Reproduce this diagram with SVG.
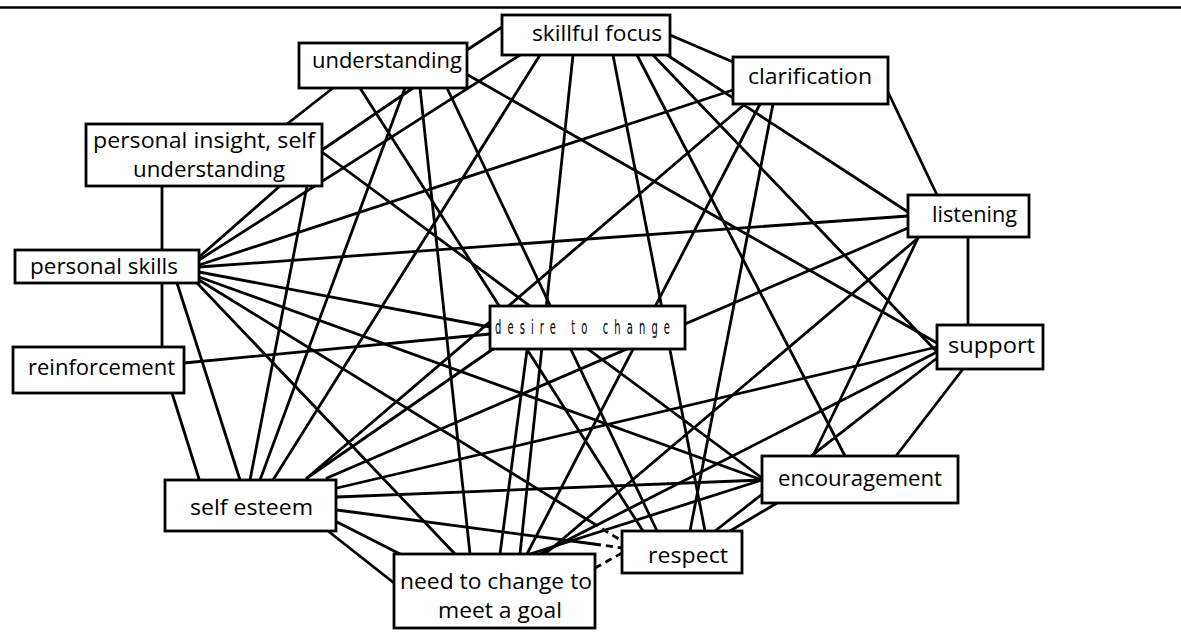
<svg xmlns="http://www.w3.org/2000/svg" width="1181" height="637" viewBox="0 0 1181 637">
<style>
.bx{fill:#fff;stroke:#000;stroke-width:2.8}
.t{font-family:"Open Sans","Liberation Sans",sans-serif;font-size:22px;font-weight:500;fill:#000}
.t2{font-size:21px}
#edges line{stroke:#000;stroke-width:2.8;stroke-linecap:round}
#edges line.d{stroke-dasharray:7 5;stroke-linecap:butt}
.dc{font-family:"DejaVu Sans Condensed","Liberation Sans Narrow",sans-serif;font-size:20px;fill:#000}
</style>
<rect width="1181" height="637" fill="#fff"/>
<line x1="0" y1="7.5" x2="1181" y2="7.5" stroke="#000" stroke-width="2.5"/>
<g id="edges">
<line x1="467" y1="50" x2="502" y2="27"/>
<line x1="670" y1="35" x2="733" y2="62"/>
<line x1="888" y1="92" x2="937" y2="195"/>
<line x1="968" y1="237" x2="968" y2="325"/>
<line x1="963" y1="369" x2="896" y2="456"/>
<line x1="777" y1="503" x2="730" y2="531"/>
<line class="d" x1="622" y1="553" x2="595" y2="568"/>
<line x1="328" y1="531" x2="394" y2="583"/>
<line x1="172" y1="393" x2="200" y2="482"/>
<line x1="162" y1="186" x2="162" y2="347"/>
<line x1="287" y1="124" x2="333" y2="88"/>
<line x1="520" y1="55" x2="199" y2="260"/>
<line x1="540" y1="55" x2="273" y2="480"/>
<line x1="573" y1="55" x2="520" y2="554"/>
<line x1="613" y1="55" x2="705" y2="531"/>
<line x1="637" y1="55" x2="845" y2="456"/>
<line x1="653" y1="55" x2="937" y2="352"/>
<line x1="667" y1="55" x2="908" y2="212"/>
<line x1="322" y1="150" x2="413" y2="88"/>
<line x1="405" y1="88" x2="260" y2="480"/>
<line x1="420" y1="88" x2="470" y2="554"/>
<line x1="447" y1="88" x2="657" y2="531"/>
<line x1="360" y1="88" x2="643" y2="531"/>
<line x1="468" y1="75" x2="937" y2="343"/>
<line x1="733" y1="90" x2="199" y2="265"/>
<line x1="745" y1="104" x2="307" y2="478"/>
<line x1="760" y1="104" x2="527" y2="554"/>
<line x1="773" y1="104" x2="690" y2="531"/>
<line x1="199" y1="267" x2="908" y2="216"/>
<line x1="199" y1="272" x2="490" y2="327"/>
<line x1="199" y1="277" x2="762" y2="480"/>
<line x1="199" y1="280" x2="592" y2="522.5"/>
<line class="d" x1="592" y1="522.5" x2="622" y2="541"/>
<line x1="197" y1="283" x2="455" y2="554"/>
<line x1="177" y1="283" x2="240" y2="480"/>
<line x1="198" y1="258" x2="280" y2="186"/>
<line x1="307" y1="186" x2="250" y2="480"/>
<line x1="322" y1="152" x2="762" y2="478"/>
<line x1="337" y1="488" x2="937" y2="347"/>
<line x1="337" y1="497" x2="762" y2="480"/>
<line x1="337" y1="510" x2="594" y2="544"/>
<line class="d" x1="594" y1="544" x2="622" y2="548"/>
<line x1="337" y1="522" x2="400" y2="554"/>
<line x1="307" y1="478" x2="493" y2="349"/>
<line x1="327" y1="478" x2="908" y2="228"/>
<line x1="184" y1="363" x2="490" y2="334"/>
<line x1="918" y1="238" x2="545" y2="554"/>
<line x1="918" y1="238" x2="813" y2="456"/>
<line x1="937" y1="352" x2="540" y2="554"/>
<line x1="937" y1="358" x2="715" y2="531"/>
<line x1="527" y1="350" x2="500" y2="554"/>
<line x1="762" y1="480" x2="530" y2="554"/>
</g>
<g id="n-skillful-focus"><rect class="bx" x="502" y="15" width="168" height="40"/><text class="t" x="532" y="41" textLength="130" lengthAdjust="spacingAndGlyphs">skillful focus</text></g>
<g id="n-understanding"><rect class="bx" x="299" y="43" width="168" height="45"/><text class="t" x="312" y="68" textLength="150" lengthAdjust="spacingAndGlyphs">understanding</text></g>
<g id="n-clarification"><rect class="bx" x="733" y="57" width="155" height="47"/><text class="t" x="748" y="84" textLength="124" lengthAdjust="spacingAndGlyphs">clarification</text></g>
<g id="n-personal-insight"><rect class="bx" x="86" y="124" width="236" height="62"/><text class="t t2" x="93" y="148" textLength="222" lengthAdjust="spacingAndGlyphs">personal insight, self</text><text class="t t2" x="133" y="177" textLength="152" lengthAdjust="spacingAndGlyphs">understanding</text></g>
<g id="n-listening"><rect class="bx" x="908" y="195" width="121" height="42"/><text class="t" x="932" y="222" textLength="85" lengthAdjust="spacingAndGlyphs">listening</text></g>
<g id="n-personal-skills"><rect class="bx" x="15" y="250" width="184" height="33"/><text class="t" x="30" y="274" textLength="148" lengthAdjust="spacingAndGlyphs">personal skills</text></g>
<g id="n-desire"><rect class="bx" x="490" y="306" width="195" height="43"/><text class="dc" transform="translate(495,334) scale(0.55,1)" textLength="318" lengthAdjust="spacing">desire to change</text></g>
<g id="n-support"><rect class="bx" x="937" y="325" width="106" height="44"/><text class="t" x="948" y="353" textLength="87" lengthAdjust="spacingAndGlyphs">support</text></g>
<g id="n-reinforcement"><rect class="bx" x="13" y="347" width="171" height="46"/><text class="t" x="28" y="375" textLength="147" lengthAdjust="spacingAndGlyphs">reinforcement</text></g>
<g id="n-self-esteem"><rect class="bx" x="165" y="480" width="171" height="51"/><text class="t" x="190" y="515" textLength="123" lengthAdjust="spacingAndGlyphs">self esteem</text></g>
<g id="n-encouragement"><rect class="bx" x="762" y="456" width="196" height="47"/><text class="t" x="778" y="486" textLength="164" lengthAdjust="spacingAndGlyphs">encouragement</text></g>
<g id="n-respect"><rect class="bx" x="622" y="531" width="120" height="42"/><text class="t" x="648" y="563" textLength="80" lengthAdjust="spacingAndGlyphs">respect</text></g>
<g id="n-need"><rect class="bx" x="394" y="554" width="201" height="74"/><text class="t t2" x="400" y="589" textLength="192" lengthAdjust="spacingAndGlyphs">need to change to</text><text class="t t2" x="438" y="618" textLength="124" lengthAdjust="spacingAndGlyphs">meet a goal</text></g>
</svg>
